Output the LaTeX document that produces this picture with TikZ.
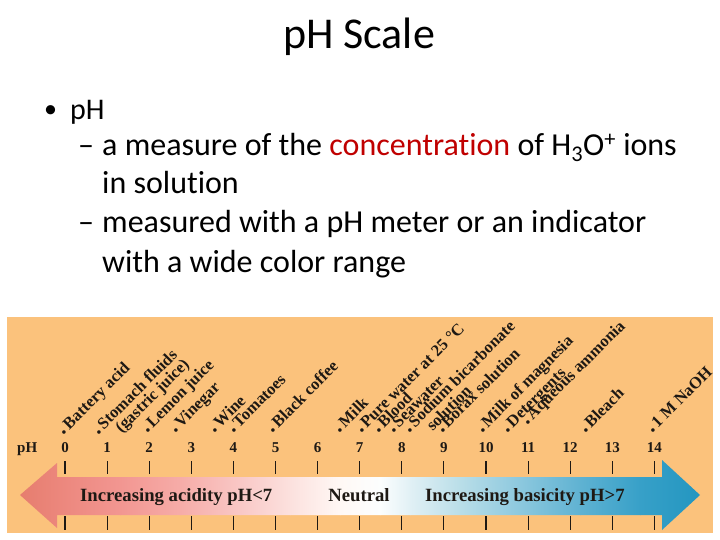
\documentclass[tikz,border=0pt]{standalone}
\usepackage{fontspec}
\setmainfont{Carlito}[Ligatures=NoCommon]
\newfontfamily\serifb{Liberation Serif}[BoldFont={Liberation Serif Bold}]
\definecolor{bgorange}{RGB}{251,194,124}
\definecolor{hired}{RGB}{192,0,0}
\definecolor{inkdark}{RGB}{30,25,20}
\definecolor{g1}{RGB}{230,125,110}
\definecolor{g2}{RGB}{236,135,125}
\definecolor{g3}{RGB}{242,150,145}
\definecolor{g4}{RGB}{246,172,168}
\definecolor{g5}{RGB}{249,200,198}
\definecolor{g6}{RGB}{252,225,222}
\definecolor{g7}{RGB}{255,248,245}
\definecolor{g8}{RGB}{252,254,254}
\definecolor{g9}{RGB}{225,240,245}
\definecolor{g10}{RGB}{185,222,232}
\definecolor{g11}{RGB}{140,200,222}
\definecolor{g12}{RGB}{95,178,210}
\definecolor{g13}{RGB}{55,160,200}
\definecolor{g14}{RGB}{35,150,192}
\newcommand{\bigdot}{{\fontsize{22}{22}\selectfont.}\hspace{2.5pt}}
\newcommand{\phlab}[4]{%
  \begin{scope}[shift={(#2,#3)},rotate=45,transform shape]
    \node[lab] (#1) at (-4,4.5) {\bigdot#4};
  \end{scope}}
\newcommand{\phlabii}[5]{%
  \begin{scope}[shift={(#2,#3)},rotate=45,transform shape]
    \node[lab] (#1) at (-4,4.5) {\bigdot#4};
    \node[lab] (#1b) at (14,19.5) {#5};
  \end{scope}}
\tikzset{
  lab/.style={anchor=base west,inner sep=0pt,font=\serifb\bfseries\fontsize{16.5}{18}\selectfont,text=inkdark},
  num/.style={anchor=base,inner sep=0pt,font=\serifb\bfseries\fontsize{15}{17}\selectfont,text=inkdark},
  arrtxt/.style={inner sep=0pt,font=\serifb\bfseries\fontsize{18.7}{20}\selectfont,text=inkdark},
  body/.style={anchor=base west,inner sep=0pt,font=\fontsize{32}{38}\selectfont},
  tick/.style={line width=1.1pt,inkdark}
}
\begin{document}
\begin{tikzpicture}[x=1pt,y=-1pt]
\useasboundingbox (0,0) rectangle (720,540);
\fill[white] (0,0) rectangle (720,540);
% title and bullets
\node[anchor=base,inner sep=0pt,font=\fontsize{44}{50}\selectfont] (title) at (359,49) {pH Scale};
\node[body,font=\fontsize{26}{30}\selectfont] (b0) at (44,118) {•};
\node[body,font=\fontsize{30}{36}\selectfont] (ph) at (70,120) {pH};
\node[body] (d1) at (78,156) {–};
\node[body] (l1) at (102,156) {a measure of the \textcolor{hired}{concentration} of H\textsubscript{3}O\textsuperscript{+} ions};
\node[body] (l2) at (102,194) {in solution};
\node[body] (d2) at (78,233) {–};
\node[body] (l3) at (102,233) {measured with a pH meter or an indicator};
\node[body] (l4) at (102,272) {with a wide color range};
% pH figure
\fill[bgorange] (7,317) rectangle (713,533);
\foreach \i in {0,...,14}{
  \pgfmathsetmacro{\xx}{65+42.1*\i}
  \draw[tick] (\xx,461) -- (\xx,474);
  \draw[tick] (\xx,516) -- (\xx,530);
  \node[num] (n\i) at (\xx,452) {\i};
}
\node[num,anchor=base west,font=\serifb\bfseries\fontsize{15}{17}\selectfont] (phlabel) at (17,452) {pH};
\begin{scope}
  \clip (20,495) -- (57,463) -- (57,477) -- (662,477) -- (662,460) -- (700,495) -- (662,530) -- (662,515) -- (57,515) -- (57,528) -- cycle;
  \shade[left color=g1,right color=g2] (19,455) rectangle (60.5,535);
  \shade[left color=g2,right color=g3] (60,455) rectangle (120.5,535);
  \shade[left color=g3,right color=g4] (120,455) rectangle (180.5,535);
  \shade[left color=g4,right color=g5] (180,455) rectangle (240.5,535);
  \shade[left color=g5,right color=g6] (240,455) rectangle (290.5,535);
  \shade[left color=g6,right color=g7] (290,455) rectangle (340.5,535);
  \shade[left color=g7,right color=g8] (340,455) rectangle (380.5,535);
  \shade[left color=g8,right color=g9] (380,455) rectangle (410.5,535);
  \shade[left color=g9,right color=g10] (410,455) rectangle (460.5,535);
  \shade[left color=g10,right color=g11] (460,455) rectangle (520.5,535);
  \shade[left color=g11,right color=g12] (520,455) rectangle (580.5,535);
  \shade[left color=g12,right color=g13] (580,455) rectangle (640.5,535);
  \shade[left color=g13,right color=g14] (640,455) rectangle (701,535);
\end{scope}
\node[arrtxt,anchor=base west] (acid) at (80,501) {Increasing acidity pH<7};
\node[arrtxt,anchor=base] (neutral) at (359,501) {Neutral};
\node[arrtxt,anchor=base west] (base) at (425,501) {Increasing basicity pH>7};
% labels
\phlab{battery}{63.3}{430}{Battery acid}
\phlabii{stomach}{97.7}{430}{Stomach fluids}{(gastric juice)}
\phlab{lemon}{146.7}{428}{Lemon juice}
\phlab{vinegar}{175}{428}{Vinegar}
\phlab{wine}{214}{428}{Wine}
\phlab{tomatoes}{233}{428}{Tomatoes}
\phlab{coffee}{272.3}{428}{Black coffee}
\phlab{milk}{339}{428}{Milk}
\phlab{water}{360.7}{428}{Pure water at 25 °C}
\phlab{blood}{378}{428}{Blood}
\phlab{seawater}{392.7}{428}{Seawater}
\phlabii{sodium}{409}{428}{Sodium bicarbonate}{solution}
\phlab{borax}{441.7}{428}{Borax solution}
\phlab{magnesia}{481.7}{428}{Milk of magnesia}
\phlab{detergents}{506.7}{428}{Detergents}
\phlab{ammonia}{526.7}{420}{Aqueous ammonia}
\phlab{bleach}{585}{428}{Bleach}
\phlab{naoh}{651.7}{428}{1 M NaOH}
\end{tikzpicture}
\end{document}
